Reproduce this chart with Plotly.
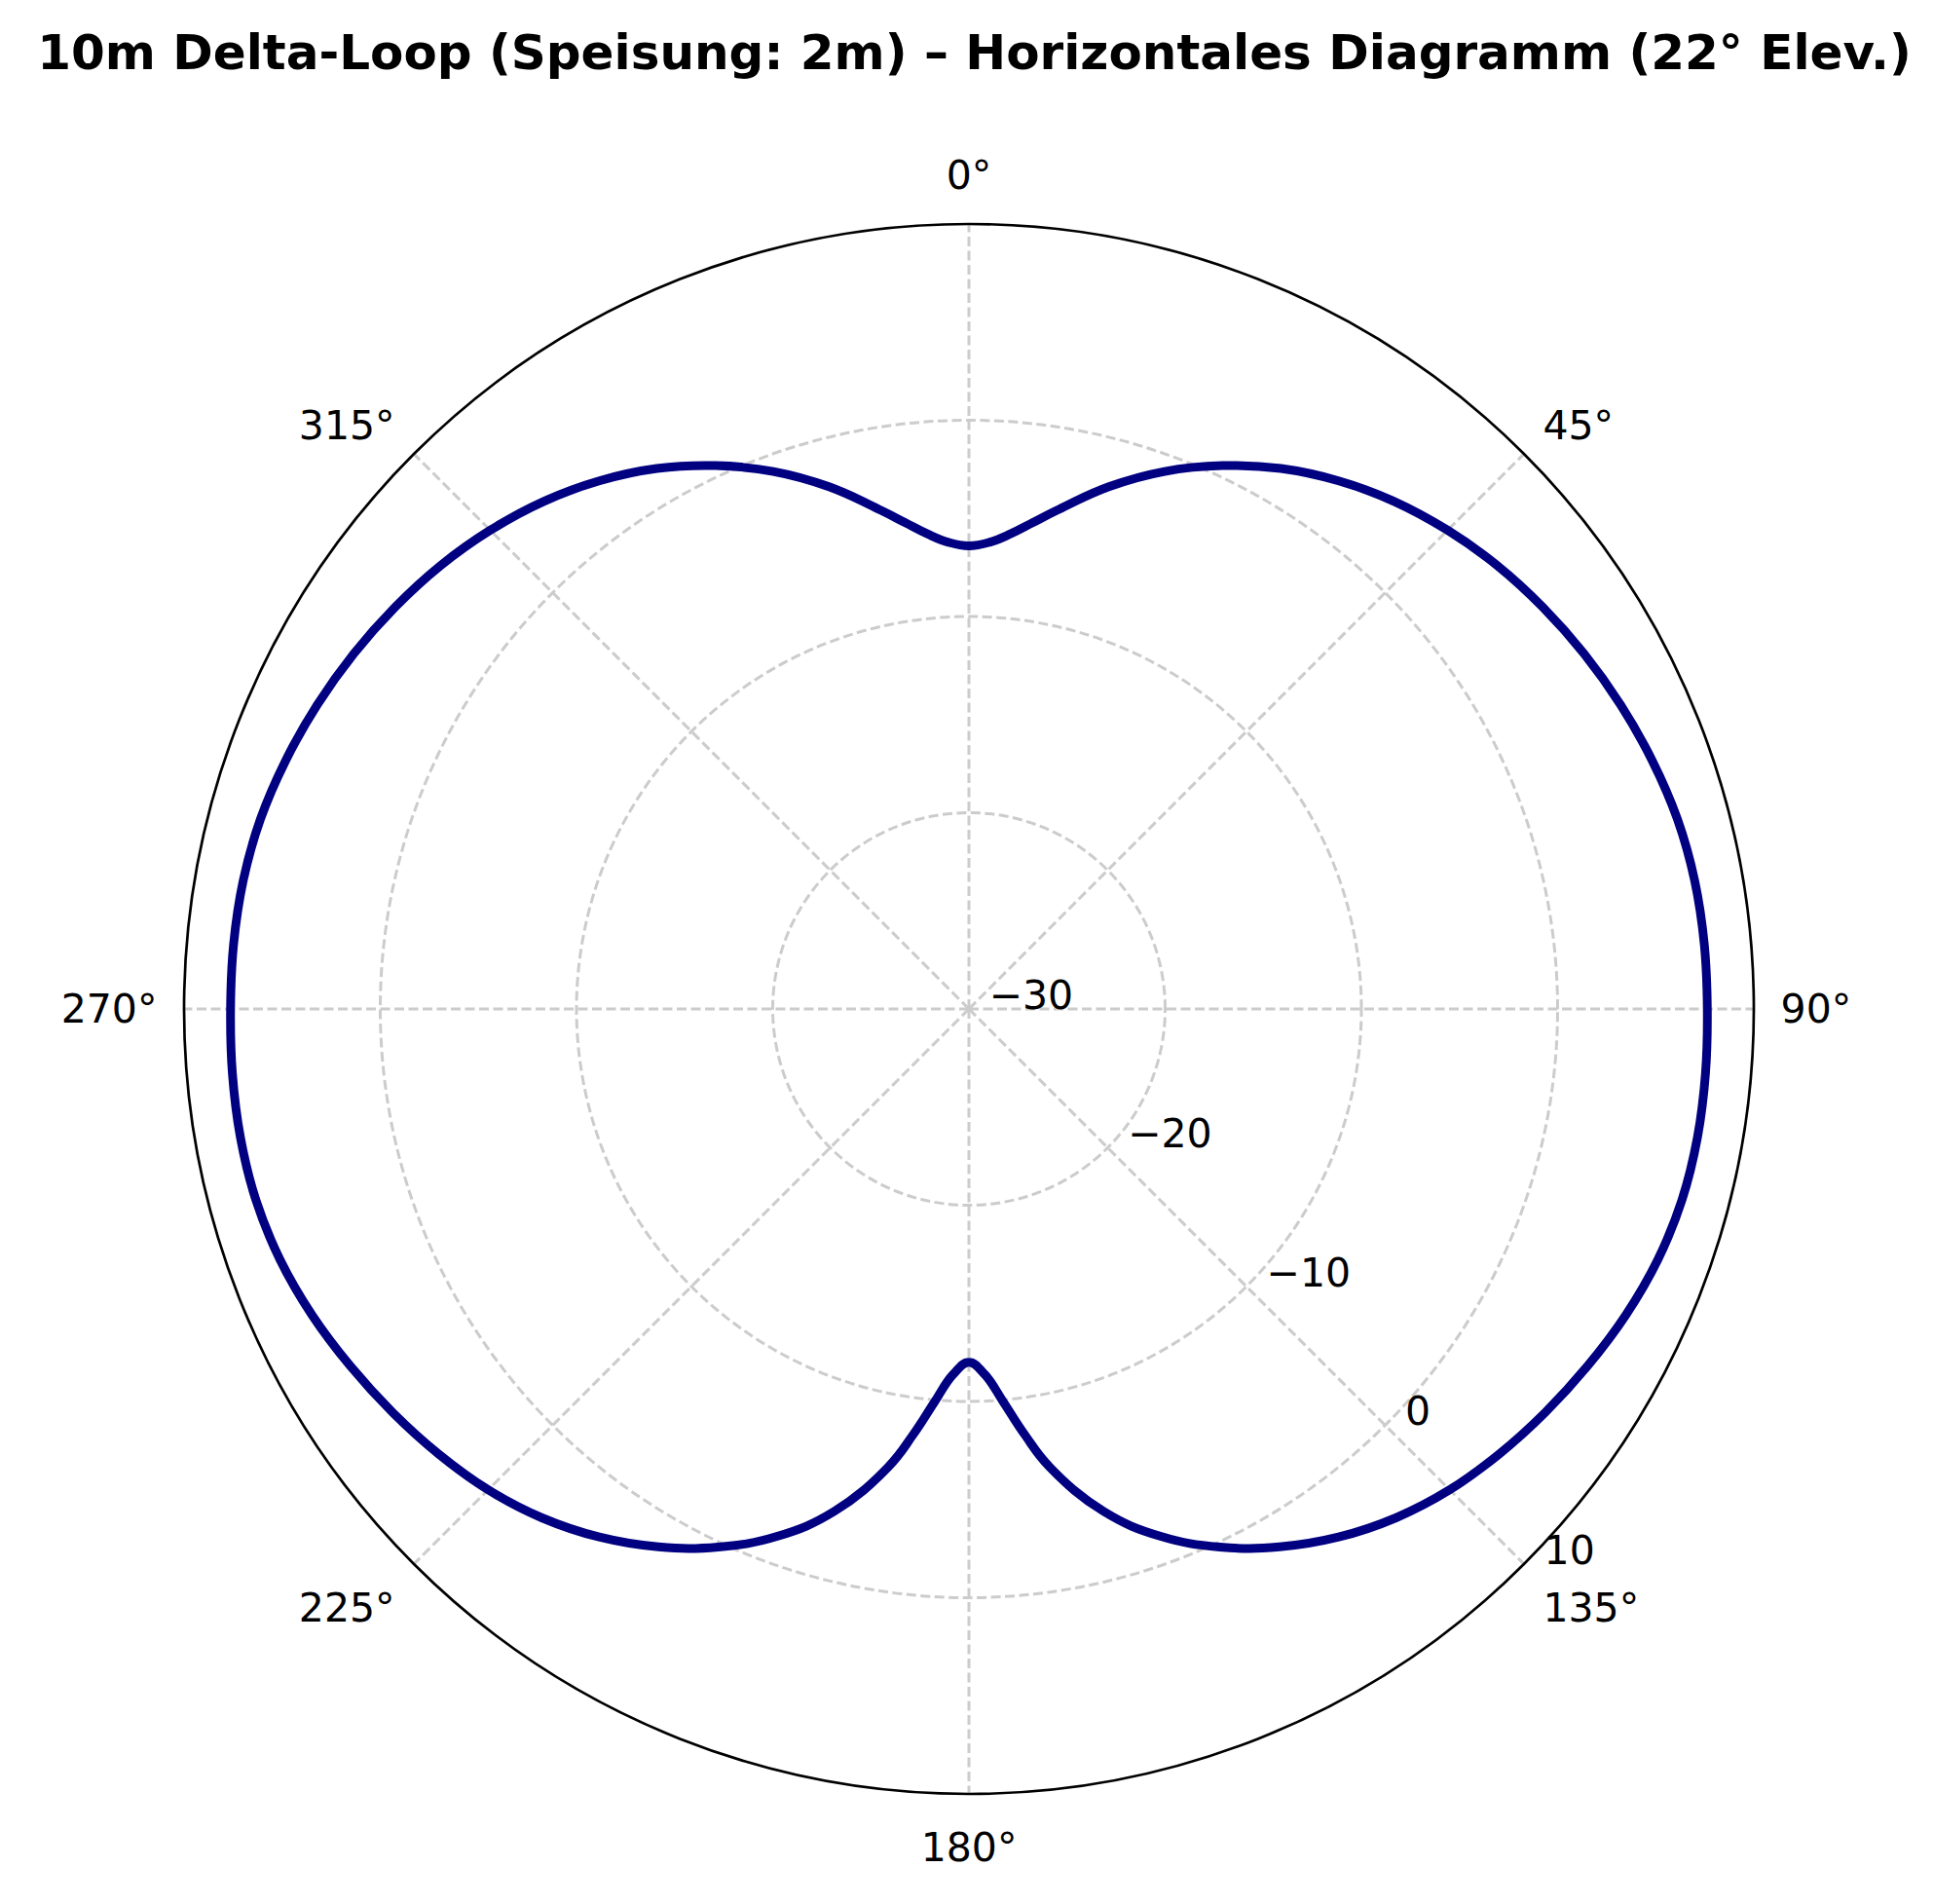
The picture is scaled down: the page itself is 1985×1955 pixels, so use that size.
import plotly.graph_objects as go

# Azimuth (degrees, compass, clockwise from North) and gain (dB)
azimuth_deg = [0, 2.5, 5, 7.5, 10, 15, 20, 25, 30, 35, 40, 45, 50, 55, 60, 65, 70, 75, 80, 85,
               90, 95, 100, 105, 110, 115, 120, 125, 130, 135, 140, 145, 150, 155, 160, 165,
               170, 172.5, 175, 177.5, 180, 182.5, 185, 187.5, 190, 195, 200, 205, 210, 215,
               220, 225, 230, 235, 240, 245, 250, 255, 260, 265, 270, 275, 280, 285, 290,
               295, 300, 305, 310, 315, 320, 325, 330, 335, 340, 345, 350, 352.5, 355, 357.5, 360]
gain_db = [-6.4, -6.2, -5.7, -5.0, -4.2, -2.45, -0.85, 0.55, 1.8, 2.85, 3.75, 4.5, 5.15, 5.7,
           6.2, 6.65, 7.05, 7.38, 7.56, 7.62, 7.63, 7.68, 7.7, 7.62, 7.36, 6.93, 6.4, 5.85, 5.28,
           4.65, 3.85, 2.85, 1.65, 0.25, -1.4, -3.5, -6.3, -8.1, -9.9, -11.35, -12.0, -11.35,
           -9.9, -8.1, -6.3, -3.5, -1.4, 0.25, 1.65, 2.85, 3.85, 4.65, 5.28, 5.85, 6.4, 6.93,
           7.36, 7.62, 7.7, 7.68, 7.63, 7.62, 7.56, 7.38, 7.05, 6.65, 6.2, 5.7, 5.15, 4.5,
           3.75, 2.85, 1.8, 0.55, -0.85, -2.45, -4.2, -5.0, -5.7, -6.2, -6.4]

angular_ticks = [0, 45, 90, 135, 180, 225, 270, 315]
angular_labels = ["0°", "45°", "90°", "135°", "180°", "225°", "270°", "315°"]
radial_ticks = [-30, -20, -10, 0, 10]
radial_labels = ["−30", "−20", "−10", "0", "10"]

title_text = "10m Delta-Loop (Speisung: 2m) – Horizontales Diagramm (22° Elev.)"

W, H = 1985, 1955
grid_color = "#cccccc"
font_family = "DejaVu Sans"

fig = go.Figure()
fig.add_trace(go.Scatterpolar(
    r=gain_db,
    theta=azimuth_deg,
    mode="lines",
    line=dict(color="#000080", width=9, shape="spline", smoothing=1.2),
    showlegend=False,
))

fig.update_layout(
    width=W,
    height=H,
    margin=dict(l=0, r=0, t=0, b=0),
    paper_bgcolor="white",
    plot_bgcolor="white",
    font=dict(family=font_family, size=41, color="black"),
    title=dict(
        text="<b>" + title_text + "</b>",
        x=0.5, xanchor="center",
        y=1 - 45 / H, yanchor="middle", yref="container",
        font=dict(family=font_family, size=50, color="black"),
    ),
    polar=dict(
        domain=dict(x=[181 / W, 1793 / W], y=[121 / H, 1733 / H]),
        bgcolor="white",
        angularaxis=dict(
            rotation=90,
            direction="clockwise",
            tickmode="array",
            tickvals=angular_ticks,
            ticktext=angular_labels,
            showline=True,
            linecolor="black",
            linewidth=2.7,
            showgrid=True,
            gridcolor=grid_color,
            gridwidth=2.7,
            griddash="10px,4.5px",
            ticks="outside",
            ticklen=18,
            tickcolor="rgba(0,0,0,0)",
            tickfont=dict(family=font_family, size=41, color="black"),
        ),
        radialaxis=dict(
            range=[-30, 10],
            tickmode="array",
            tickvals=radial_ticks,
            ticktext=radial_labels,
            angle=-45,
            side="counterclockwise",
            tickangle=-45,
            showline=False,
            ticks="",
            showgrid=True,
            gridcolor=grid_color,
            gridwidth=2.7,
            griddash="10px,4.5px",
            tickfont=dict(family=font_family, size=41, color="black"),
        ),
    ),
)

fig.write_html("out.html")
